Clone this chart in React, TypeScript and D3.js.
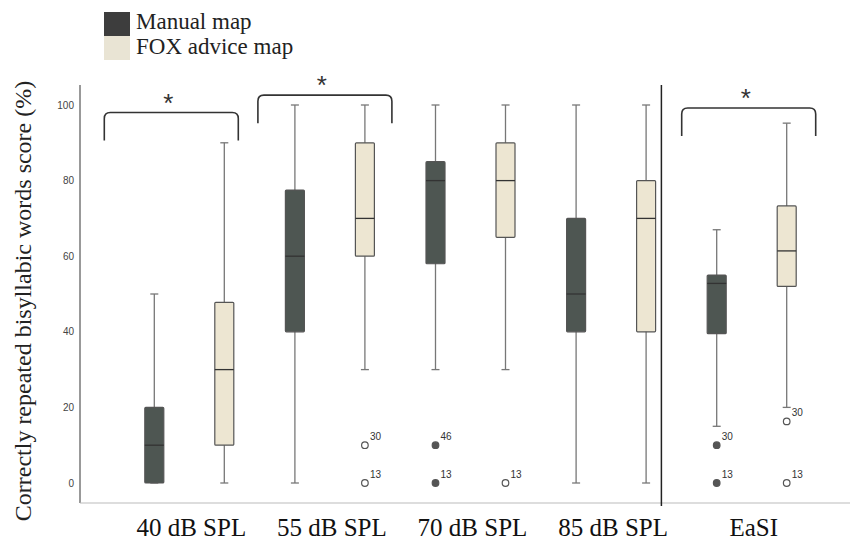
import React, { useEffect, useRef } from "react";
import * as d3 from "d3";

// categories and box stats: [lowWhisker, q1, median, q3, highWhisker]
const categories = ["40 dB SPL", "55 dB SPL", "70 dB SPL", "85 dB SPL", "EaSI"];
const manualBoxes = [
  [0, 0, 10, 20, 50],
  [0, 40, 60, 77.5, 100],
  [30, 58, 80, 85, 100],
  [0, 40, 50, 70, 100],
  [15, 39.5, 52.8, 55, 67],
];
const foxBoxes = [
  [0, 10, 30, 47.8, 90],
  [30, 60, 70, 90, 100],
  [30, 65, 80, 90, 100],
  [0, 40, 70, 80, 100],
  [20, 52, 61.4, 73.3, 95.2],
];
const manualOutliers = [
  { cat: "70 dB SPL", value: 10, label: "46" },
  { cat: "70 dB SPL", value: 0, label: "13" },
  { cat: "EaSI", value: 10, label: "30" },
  { cat: "EaSI", value: 0, label: "13" },
];
const foxOutliers = [
  { cat: "55 dB SPL", value: 10, label: "30" },
  { cat: "55 dB SPL", value: 0, label: "13" },
  { cat: "70 dB SPL", value: 0, label: "13" },
  { cat: "EaSI", value: 16.3, label: "30" },
  { cat: "EaSI", value: 0, label: "13" },
];
const sigCats = ["40 dB SPL", "55 dB SPL", "EaSI"];
const sigLevels = [98, 102.6, 99.2];
const yTicks = [0, 20, 40, 60, 80, 100];

const width = 853, height = 541;
const darkFill = "#4e5652", lightFill = "#ede6d2";
const serif = "'Liberation Serif', 'Times New Roman', serif";
const sans = "'Liberation Sans', Arial, sans-serif";

export default function App() {
  const ref = useRef<SVGSVGElement>(null);

  useEffect(() => {
    const svg = d3.select(ref.current);
    svg.selectAll("*").remove();

    const x = d3.scaleBand().domain(categories).range([119, 822]);
    const y = d3.scaleLinear().domain([0, 100]).range([483, 105]);
    const half = 35, bw = 19;
    const cx = (c: string) => (x(c) as number) + x.bandwidth() / 2;

    // axes lines
    svg.append("line").attr("x1", 80).attr("x2", 80).attr("y1", 85).attr("y2", 503)
      .attr("stroke", "#555").attr("stroke-width", 1.2);
    svg.append("line").attr("x1", 80).attr("x2", 850).attr("y1", 503).attr("y2", 503)
      .attr("stroke", "#bbb").attr("stroke-width", 1.2);
    const sepX = (x("EaSI") as number) - 20;
    svg.append("line").attr("x1", sepX).attr("x2", sepX).attr("y1", 85).attr("y2", 506)
      .attr("stroke", "#222").attr("stroke-width", 1.5);

    svg.append("g").selectAll("text").data(yTicks).join("text")
      .attr("x", 74).attr("y", d => y(d) + 3.5).attr("text-anchor", "end")
      .style("font", `10px ${sans}`).attr("fill", "#444")
      .text(d => d);

    svg.append("text")
      .attr("transform", `translate(31,${301})rotate(-90)`)
      .attr("text-anchor", "middle")
      .style("font", `24px ${serif}`).attr("fill", "#222")
      .text("Correctly repeated bisyllabic words score (%)");

    svg.append("g").selectAll("text").data(categories).join("text")
      .attr("x", d => cx(d) + 2).attr("y", 536).attr("text-anchor", "middle")
      .style("font", `25px ${serif}`).attr("fill", "#111")
      .text(d => d);

    const drawBoxes = (boxes: number[][], off: number, fill: string) => {
      const g = svg.append("g");
      boxes.forEach((b, i) => {
        const c = cx(categories[i]) + off;
        const [lo, q1, med, q3, hi] = b;
        g.append("line").attr("x1", c).attr("x2", c).attr("y1", y(lo)).attr("y2", y(hi))
          .attr("stroke", "#777").attr("stroke-width", 1.3);
        [lo, hi].forEach(v => g.append("line").attr("x1", c - 4).attr("x2", c + 4)
          .attr("y1", y(v)).attr("y2", y(v)).attr("stroke", "#777").attr("stroke-width", 1.3));
        g.append("rect").attr("x", c - bw / 2).attr("y", y(q3)).attr("width", bw)
          .attr("height", y(q1) - y(q3)).attr("fill", fill).attr("stroke", "#555")
          .attr("stroke-width", 1.2).attr("rx", 1);
        g.append("line").attr("x1", c - bw / 2).attr("x2", c + bw / 2)
          .attr("y1", y(med)).attr("y2", y(med)).attr("stroke", "#333").attr("stroke-width", 1.3);
      });
    };
    drawBoxes(manualBoxes, -half, darkFill);
    drawBoxes(foxBoxes, half, lightFill);

    const drawOutliers = (pts: typeof manualOutliers, off: number, filled: boolean) => {
      const g = svg.append("g");
      pts.forEach(p => {
        const c = cx(p.cat) + off;
        g.append("circle").attr("cx", c).attr("cy", y(p.value)).attr("r", 3.3)
          .attr("fill", filled ? "#555" : "#fff").attr("stroke", "#555").attr("stroke-width", 1.2);
        g.append("text").attr("x", c + 5).attr("y", y(p.value) - 5)
          .style("font", `10px ${sans}`).attr("fill", "#333")
          .text(p.label);
      });
    };
    drawOutliers(manualOutliers, -half, true);
    drawOutliers(foxOutliers, half, false);

    // significance brackets
    const shifts = [-18, -5, -3];
    sigCats.forEach((c, i) => {
      const mid = cx(c) + shifts[i];
      const x0 = mid - 67, x1 = mid + 67, yt = y(sigLevels[i]), yb = yt + 28;
      svg.append("path")
        .attr("d", `M${x0},${yb} L${x0},${yt + 6} Q${x0},${yt} ${x0 + 6},${yt} L${x1 - 6},${yt} Q${x1},${yt} ${x1},${yt + 6} L${x1},${yb}`)
        .attr("fill", "none").attr("stroke", "#333").attr("stroke-width", 1.6);
      svg.append("text").attr("x", mid - 3).attr("y", yt - 1).attr("text-anchor", "middle")
        .style("font", `26px ${sans}`).attr("fill", "#333")
        .text("*");
    });

    // legend
    const legend = [
      { label: "Manual map", fill: "#3d3d3d" },
      { label: "FOX advice map", fill: "#e9e4d4" },
    ];
    legend.forEach((l, i) => {
      svg.append("rect").attr("x", 104).attr("y", 12 + i * 24).attr("width", 26).attr("height", 24)
        .attr("fill", l.fill);
      svg.append("text").attr("x", 136).attr("y", 29 + i * 25)
        .style("font", `23px ${serif}`).attr("fill", "#222")
        .text(l.label);
    });
  }, []);

  return (
    <svg ref={ref} width={width} height={height}
      style={{ position: "absolute", left: 0, top: 0, background: "#fff" }} />
  );
}
